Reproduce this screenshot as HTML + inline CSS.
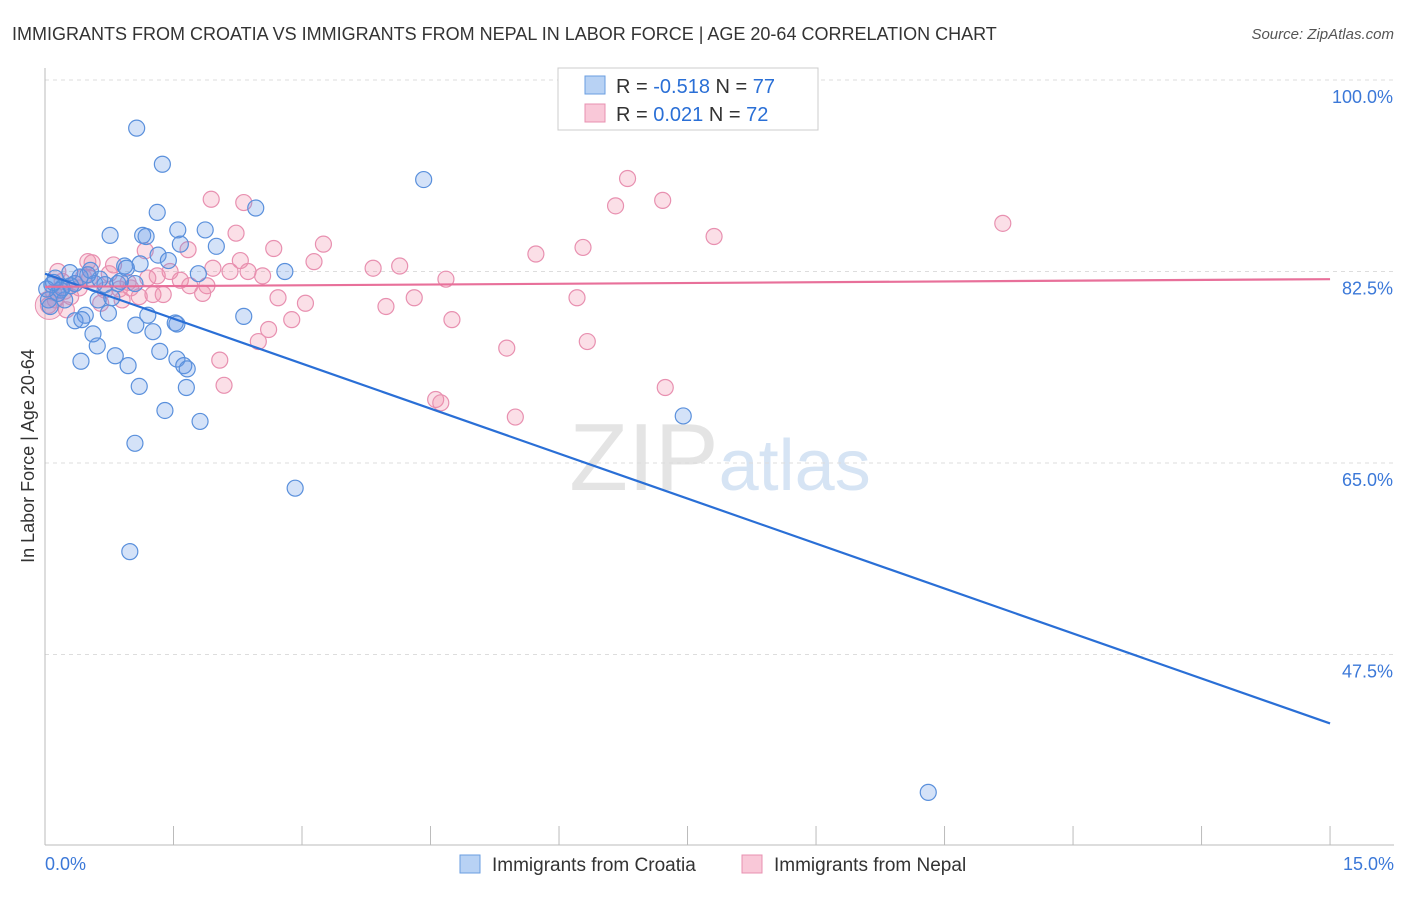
<!DOCTYPE html>
<html><head><meta charset="utf-8"><style>
body{margin:0;background:#fff;font-family:"Liberation Sans",sans-serif;}
svg text{font-family:"Liberation Sans",sans-serif;}
</style></head><body>
<svg id="chart" width="1406" height="892" xmlns="http://www.w3.org/2000/svg">
<text x="12" y="40" font-size="18" fill="#333">IMMIGRANTS FROM CROATIA VS IMMIGRANTS FROM NEPAL IN LABOR FORCE | AGE 20-64 CORRELATION CHART</text>
<text x="1394" y="39" font-size="15" fill="#555" text-anchor="end" font-style="italic">Source: ZipAtlas.com</text>
<text x="720" y="490" font-size="96" fill="#e4e4e4" text-anchor="middle" font-family="Liberation Serif">ZIP<tspan fill="#d6e4f4" font-family="Liberation Sans" font-size="72">atlas</tspan></text>
<g id="grid"></g><g id="axes"></g><g id="pts"></g><g id="lines"></g>
<text transform="translate(34,456) rotate(-90)" font-size="18" fill="#333" text-anchor="middle">In Labor Force | Age 20-64</text>
<g>
<rect x="558" y="68" width="260" height="62" fill="#fff" stroke="#ccc"/>
<rect x="585" y="76" width="20" height="18" fill="#b8d2f4" stroke="#6a9ee0"/>
<rect x="585" y="104" width="20" height="18" fill="#f9c8d8" stroke="#e890b0"/>
<text x="616" y="93" font-size="20" fill="#333">R = <tspan fill="#2a6fd6">-0.518</tspan>   N = <tspan fill="#2a6fd6">77</tspan></text>
<text x="616" y="121" font-size="20" fill="#333">R =  <tspan fill="#2a6fd6"> 0.021</tspan>   N = <tspan fill="#2a6fd6">72</tspan></text>
</g>
<g>
<rect x="460" y="855" width="20" height="18" fill="#b8d2f4" stroke="#6a9ee0"/>
<text x="492" y="871" font-size="19" fill="#333">Immigrants from Croatia</text>
<rect x="742" y="855" width="20" height="18" fill="#f9c8d8" stroke="#e890b0"/>
<text x="774" y="871" font-size="19" fill="#333">Immigrants from Nepal</text>
</g>
</svg>
<script>
const yTicks=[100,82.5,65,47.5];
const yTickLabels=["100.0%","82.5%","65.0%","47.5%"];
const xTickLabels=["0.0%","15.0%"];
const croatiaX=[1.07,1.37,4.42,1.31,2.46,1.55,1.87,0.76,1.14,1.18,1.58,2.00,1.32,1.44,0.93,1.11,2.80,1.79,0.53,0.29,0.12,0.08,0.18,0.04,0.06,0.23,0.35,0.58,0.70,0.85,1.05,0.62,0.78,0.74,0.47,0.35,0.43,1.2,1.06,1.52,1.54,2.32,0.56,0.61,1.26,1.34,0.82,0.42,0.97,1.54,1.62,1.66,1.10,1.65,1.40,1.81,7.45,1.05,2.92,0.99,10.31,0.2,0.41,0.64,0.88,0.15,0.3,0.5,0.95,0.02,0.1];
const croatiaY=[95.6,92.3,90.9,87.9,88.3,86.3,86.3,85.8,85.8,85.7,85.0,84.8,84.0,83.5,83.0,83.2,82.5,82.3,82.6,82.4,81.9,81.3,80.8,79.9,79.3,79.9,81.4,81.4,81.3,81.4,81.4,79.9,80.1,78.7,78.5,78.0,78.1,78.5,77.6,77.8,77.7,78.4,76.8,75.7,77.0,75.2,74.8,74.3,73.9,74.5,73.9,73.6,72.0,71.9,69.8,68.8,69.3,66.8,62.7,56.9,34.9,81.0,82.0,81.8,81.6,80.5,81.2,82.2,82.8,80.9,81.5];
const nepalX=[6.8,6.66,7.21,1.94,2.32,11.18,7.81,2.23,3.25,6.28,5.73,2.67,1.67,1.17,2.28,3.14,0.50,4.14,3.83,1.96,2.16,2.37,1.46,1.31,2.54,4.68,0.97,1.58,1.69,1.89,1.84,1.26,1.38,2.72,3.04,4.31,6.21,3.98,2.88,4.75,2.61,2.49,5.39,6.33,2.04,2.09,7.24,4.56,4.62,5.49,0.04,0.12,0.23,0.35,0.52,0.75,0.87,1.1,0.65,0.2,0.3,0.45,0.1,0.8,1.0,0.55,0.15,0.9,0.4,1.2,0.7,0.25];
const nepalY=[91.0,88.5,89.0,89.1,88.8,86.9,85.7,86.0,85.0,84.7,84.1,84.6,84.5,84.4,83.5,83.4,83.4,83.0,82.8,82.8,82.5,82.5,82.5,82.1,82.1,81.8,81.5,81.7,81.2,81.2,80.5,80.4,80.4,80.1,79.6,80.1,80.1,79.3,78.1,78.1,77.2,76.1,75.5,76.1,74.4,72.1,71.9,70.8,70.5,69.2,79.4,79.9,80.7,81.4,81.9,82.3,80.9,80.2,79.6,81.6,80.2,82.0,80.6,83.1,81.0,83.3,82.5,79.9,81.0,81.9,80.8,79.0];
const croatiaTrend=[82.3,41.2];
const nepalTrend=[81.1,81.8];
const NS="http://www.w3.org/2000/svg";
const X=v=>45+v*85.67, Y=v=>80+(100-v)*10.943;
function mk(t,a,p){const e=document.createElementNS(NS,t);for(const k in a)e.setAttribute(k,a[k]);p.appendChild(e);return e;}
const grid=document.getElementById('grid'),axes=document.getElementById('axes'),pts=document.getElementById('pts'),lines=document.getElementById('lines');
yTicks.forEach((t,i)=>{
 const l=mk('line',{x1:45,x2:1394,y1:Y(t),y2:Y(t),stroke:'#ddd','stroke-dasharray':'4,4'},grid);
 
 
 const tx=mk('text',{x:1393,y:Y(t)+23,'font-size':18,fill:'#3b78d8','text-anchor':'end'},axes);
 tx.textContent=yTickLabels[i];
 
 
});
const ax=mk('line',{x1:45,x2:1394,y1:845,y2:845,stroke:'#bbb'},axes);


const ay=mk('line',{x1:45,x2:45,y1:68,y2:845,stroke:'#bbb'},axes);


for(let i=0;i<=10;i++){const v=i*1.5;
 const t=mk('line',{x1:X(v),x2:X(v),y1:826,y2:845,stroke:'#bbb'},axes);
 
 }
[[0,'start',45],[15,'end',1394]].forEach((d,i)=>{
 const tx=mk('text',{x:d[2],y:870,'font-size':18,fill:'#3b78d8','text-anchor':d[1]},axes);
 tx.textContent=xTickLabels[i];
 
 });
const bigP=mk('circle',{cx:X(0.05),cy:Y(79.4),r:14,fill:'rgba(240,140,170,0.3)',stroke:'#e890b0'},pts);


nepalX.forEach((x,i)=>{const c=mk('circle',{cx:X(x),cy:Y(nepalY[i]),r:8,fill:'rgba(240,140,170,0.28)',stroke:'#e890b0','stroke-width':1.2},pts);
 
 });
croatiaX.forEach((x,i)=>{const c=mk('circle',{cx:X(x),cy:Y(croatiaY[i]),r:8,fill:'rgba(100,150,230,0.28)',stroke:'#5a90dc','stroke-width':1.2},pts);
 
 });
const l1=mk('line',{x1:X(0),y1:Y(croatiaTrend[0]),x2:X(15),y2:Y(croatiaTrend[1]),stroke:'#2a6fd6','stroke-width':2.2},lines);


const l2=mk('line',{x1:X(0),y1:Y(nepalTrend[0]),x2:X(15),y2:Y(nepalTrend[1]),stroke:'#e8709a','stroke-width':2.2},lines);


</script>
</body></html>
